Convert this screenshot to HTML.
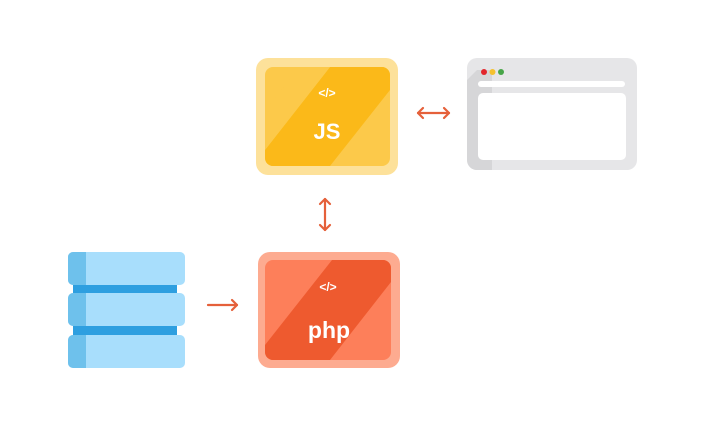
<!DOCTYPE html>
<html><head><style>body{margin:0;background:#fff}</style></head><body>
<svg width="705" height="423" viewBox="0 0 705 423" xmlns="http://www.w3.org/2000/svg" font-family="Liberation Sans, sans-serif">
<defs>
<clipPath id="cj"><rect x="265" y="67" width="125" height="99" rx="8"/></clipPath>
<clipPath id="cp"><rect x="265" y="260" width="126" height="100" rx="8"/></clipPath>
</defs>
<!-- JS -->
<rect x="256" y="58" width="142" height="117" rx="12" fill="#fde19a"/>
<g clip-path="url(#cj)">
<rect x="265" y="67" width="125" height="99" fill="#fcc94a"/>
<polygon points="265,150 330,67 390,67 390,90 330,166 265,166" fill="#fbb919"/>
<polygon points="265,166 265,150 330,67 300,67 265,110" fill="#fcc94a"/>
</g>
<text x="327" y="97" text-anchor="middle" font-size="12" font-weight="bold" fill="#fff">&lt;/&gt;</text>
<text x="327" y="139" text-anchor="middle" font-size="22" font-weight="bold" fill="#fff">JS</text>
<!-- browser -->
<rect x="467" y="58" width="170" height="112" rx="10" fill="#e6e6e8"/>
<path d="M477 70 h15 v100 h-15 a10 10 0 0 1 -10 -10 v-80 z" fill="#d6d6d8"/>
<circle cx="484" cy="72" r="3" fill="#e2252b"/>
<circle cx="492.5" cy="72" r="3" fill="#f5c12e"/>
<circle cx="501" cy="72" r="3" fill="#47a548"/>
<rect x="478" y="81" width="147" height="6" rx="3" fill="#fff"/>
<rect x="478" y="93" width="148" height="67" rx="5" fill="#fff"/>
<!-- arrows -->
<g stroke="#e5603a" stroke-width="2.2" fill="none" stroke-linecap="round" stroke-linejoin="round">
<line x1="418" y1="113" x2="449" y2="113"/><polyline points="423,108 418,113 423,118"/><polyline points="444,108 449,113 444,118"/>
<line x1="325" y1="199" x2="325" y2="230"/><polyline points="320,204 325,199 330,204"/><polyline points="320,225 325,230 330,225"/>
<line x1="208" y1="305" x2="237" y2="305"/><polyline points="232,300 237,305 232,310"/>
</g>
<!-- php -->
<rect x="258" y="252" width="142" height="116" rx="12" fill="#fdab90"/>
<g clip-path="url(#cp)">
<rect x="265" y="260" width="126" height="100" fill="#fd7f5a"/>
<polygon points="265,345 332,260 391,260 391,282 330,360 265,360" fill="#ee5a2f"/>
</g>
<text x="328" y="291" text-anchor="middle" font-size="12" font-weight="bold" fill="#fff">&lt;/&gt;</text>
<text x="329" y="338" text-anchor="middle" font-size="23" font-weight="bold" fill="#fff">php</text>
<!-- db -->
<rect x="73" y="283" width="104" height="12" fill="#2e9fe0"/>
<rect x="73" y="325" width="104" height="12" fill="#2e9fe0"/>
<g>
<rect x="68" y="252" width="117" height="33" rx="5" fill="#a8defc"/>
<rect x="68" y="293" width="117" height="33" rx="5" fill="#a8defc"/>
<rect x="68" y="335" width="117" height="33" rx="5" fill="#a8defc"/>
<path d="M73 252 h13 v33 h-13 a5 5 0 0 1 -5 -5 v-23 a5 5 0 0 1 5 -5z" fill="#6ec1ec"/>
<path d="M73 293 h13 v33 h-13 a5 5 0 0 1 -5 -5 v-23 a5 5 0 0 1 5 -5z" fill="#6ec1ec"/>
<path d="M73 335 h13 v33 h-13 a5 5 0 0 1 -5 -5 v-23 a5 5 0 0 1 5 -5z" fill="#6ec1ec"/>
</g>
</svg>
</body></html>
